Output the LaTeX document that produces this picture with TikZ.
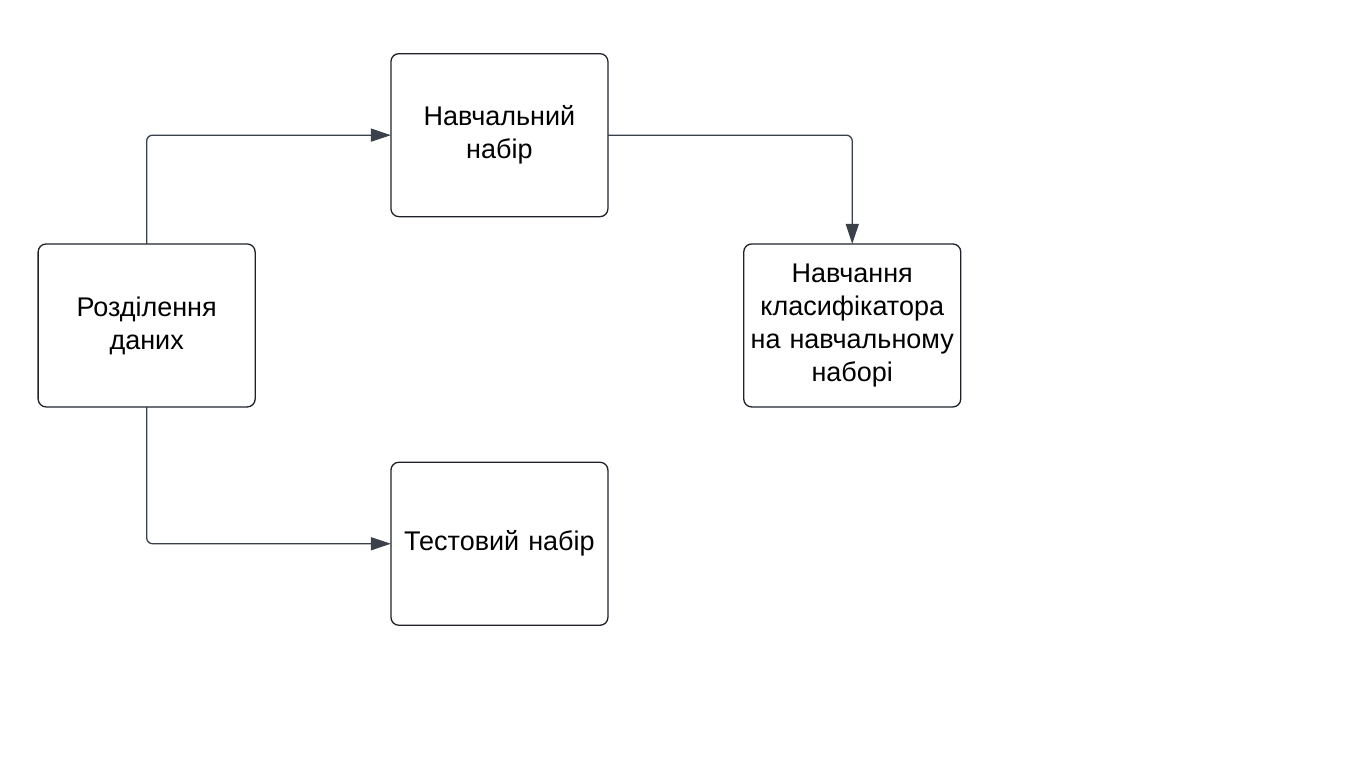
\documentclass[tikz,border=0pt]{standalone}
\usepackage{fontspec}
\setmainfont{Liberation Sans}
\usepackage{tikz}
\usetikzlibrary{matrix,arrows.meta}
\definecolor{linkgray}{HTML}{3A414A}
\definecolor{boxline}{HTML}{1F2329}

\begin{document}
\begin{tikzpicture}[x=1pt,y=1pt,
  link/.style={draw=linkgray, line width=1.3pt, rounded corners=6pt, -{Triangle[width=13pt,length=20pt]}}]
  \useasboundingbox (0,0) rectangle (1364,-768);
  \matrix (m) [matrix of nodes, anchor=north west, inner sep=0pt, outer sep=0pt,
    row sep=26pt, column sep=134.5pt,
    nodes={draw=boxline, line width=1.3pt, rounded corners=8pt, minimum width=217pt, minimum height=163pt,
      text width=214pt, align=center, inner sep=0pt, anchor=center, font=\fontsize{27}{33}\selectfont}] at (37.5,-53)
  {
     & Навчальний набір & \\
    Розділення даних & & Навчання класифікатора на навчальному наборі \\[28pt]
     & Тестовий набір & \\
  };
  \path[link]
  (m-2-1.north) |- (m-1-2.west)
  ;
  \path[link]
  (m-2-1.south) |- (m-3-2.west)
  ;
  \path[link]
  (m-1-2.east) -| (m-2-3.north)
  ;
\end{tikzpicture}
\end{document}
